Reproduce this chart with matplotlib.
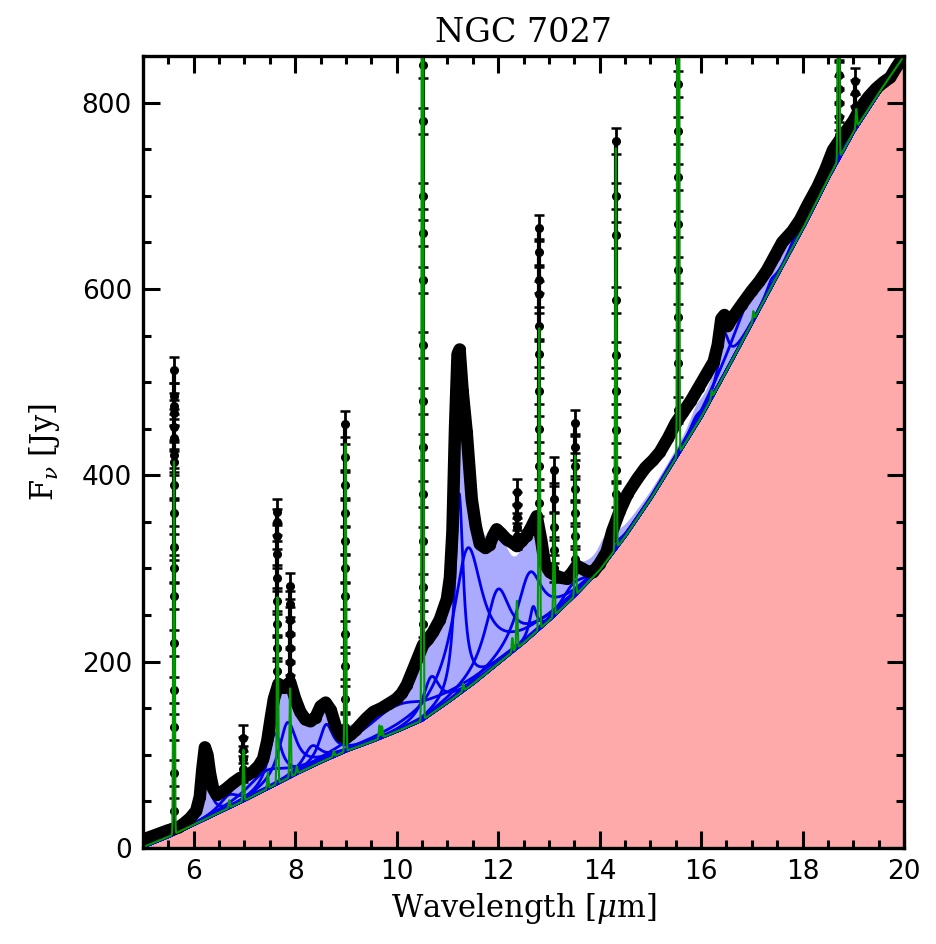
import numpy as np
import matplotlib.pyplot as plt

plt.rcParams["mathtext.fontset"] = "dejavuserif"

# continuum (red area)
cont_wave = [5.0, 5.5, 6.0, 6.5, 7.0, 7.5, 8.0, 8.5, 9.0, 9.5, 10.0, 10.5, 11.0, 11.5,
             12.0, 12.5, 13.0, 13.5, 14.0, 14.5, 15.0, 15.5, 16.0, 16.5, 17.0, 17.5,
             18.0, 18.5, 19.0, 19.5, 20.0]
cont_flux = [1, 12, 25, 38, 51, 65, 79, 92, 104, 114, 125, 137, 156, 176,
             198, 220, 244, 270, 298, 334, 374, 418, 462, 512, 563, 614,
             664, 718, 768, 810, 850]

# dust features (Drude): centre, fwhm, peak above continuum
feat_wave = [5.70, 6.22, 6.69, 7.42, 7.60, 7.85, 8.33, 8.61, 10.00, 10.68, 11.23, 11.40,
             11.99, 12.62, 12.69, 13.48, 14.04, 14.19, 15.90, 16.45, 17.04, 17.38, 17.87]
feat_fwhm = [0.20, 0.19, 0.47, 0.94, 0.33, 0.42, 0.42, 0.34, 1.60, 0.40, 0.20, 0.70,
             0.60, 0.60, 0.17, 0.54, 0.23, 0.36, 0.32, 0.23, 1.11, 0.21, 0.29]
feat_peak = [5, 72, 14, 20, 55, 60, 22, 38, 28, 40, 215, 150,
             80, 70, 30, 15, 8, 12, 10, 45, 35, 8, 8]

# emission lines (green): centre, peak above continuum
line_wave = [5.61, 6.70, 6.98, 7.46, 7.65, 7.90, 8.03, 8.76, 8.99, 9.66, 9.71, 10.51,
             11.31, 12.28, 12.37, 12.81, 13.10, 13.52, 14.32, 15.55, 16.21, 17.03,
             18.71, 19.06]
line_peak = [400, 8, 55, 17, 200, 95, 8, 6, 330, 14, 12, 2000,
             8, 15, 51, 323, 110, 150, 430, 2000, 8, 10,
             600, 20]

# observed spectrum (black band)
obs_wave = [5.00, 5.10, 5.20, 5.30, 5.40, 5.50, 5.70, 5.80, 5.93, 6.05, 6.12, 6.17,
            6.22, 6.27, 6.32, 6.38, 6.45, 6.55, 6.65, 6.78, 6.91, 7.05, 7.17, 7.28,
            7.37, 7.45, 7.52, 7.58, 7.67, 7.78, 7.90, 8.00, 8.10, 8.20, 8.30, 8.40,
            8.50, 8.60, 8.70, 8.80, 8.90, 9.00, 9.10, 9.20, 9.30, 9.40, 9.54, 9.70,
            9.85, 10.00, 10.10, 10.20, 10.35, 10.52, 10.62, 10.72, 10.85, 10.99, 11.05,
            11.10, 11.15, 11.20, 11.24, 11.30, 11.38, 11.48, 11.56, 11.64, 11.75, 11.83,
            11.90, 11.97, 12.05, 12.17, 12.27, 12.37, 12.47, 12.56, 12.66, 12.76, 12.85,
            12.92, 13.02, 13.15, 13.25, 13.35, 13.45, 13.55, 13.65, 13.75, 13.87, 14.00,
            14.14, 14.25, 14.40, 14.55, 14.74, 14.90, 15.05, 15.19, 15.35, 15.50, 15.65,
            15.80, 15.95, 16.10, 16.25, 16.33, 16.40, 16.46, 16.52, 16.63, 16.80, 17.00,
            17.15, 17.30, 17.45, 17.60, 17.80, 17.95, 18.10, 18.30, 18.45, 18.60, 18.80,
            19.00, 19.15, 19.30, 19.45, 19.60, 19.73, 19.85, 20.00]
obs_flux = [8, 11, 13, 15, 17, 19, 22, 26, 32, 40, 55, 85,
            108, 100, 80, 64, 57, 60, 64, 70, 75, 78, 82, 88,
            96, 115, 140, 160, 176, 172, 178, 160, 146, 138, 136, 140,
            152, 156, 148, 130, 120, 118, 122, 127, 133, 139, 146, 150,
            155, 160, 166, 175, 195, 218, 224, 232, 245, 267, 290,
            340, 450, 530, 535, 490, 446, 374, 345, 326, 322, 325,
            335, 342, 338, 331, 328, 324, 330, 335, 345, 356, 330,
            305, 296, 292, 290, 289, 295, 303, 300, 297, 296, 305,
            318, 340, 362, 380, 396, 408, 416, 425, 440, 456, 468,
            480, 494, 508, 522, 540, 568, 572, 560, 570, 583, 598,
            608, 620, 635, 650, 662, 674, 690, 710, 728, 749, 765,
            780, 795, 806, 815, 822, 827, 838, 850]

# points climbing up the narrow lines
spike_wave = [5.61, 6.98, 7.65, 7.90, 8.99, 10.51, 12.37, 12.81, 13.10, 13.52,
              14.32, 15.55, 18.71, 19.03]
spike_dots = [
    [40, 80, 130, 170, 220, 270, 300, 323, 360, 390, 414, 422, 440, 452, 467, 474, 485, 513],
    [85, 95, 105, 118],
    [190, 215, 240, 265, 290, 315, 335, 350, 361],
    [185, 200, 215, 230, 245, 262, 281],
    [130, 160, 195, 230, 270, 300, 330, 360, 390, 420, 455],
    [240, 280, 330, 380, 430, 480, 540, 610, 660, 700, 780, 840, 900],
    [335, 345, 355, 368, 382],
    [370, 410, 450, 490, 530, 560, 595, 610, 640, 665],
    [300, 320, 345, 375, 406],
    [310, 335, 360, 385, 410, 430, 456],
    [380, 406, 449, 490, 529, 588, 658, 700, 759],
    [470, 520, 570, 620, 670, 720, 770, 820, 880],
    [765, 785, 800, 815, 830, 860],
    [795, 810, 823],
]


def drude(x, x0, fwhm, peak):
    g = fwhm / x0
    return peak * g**2 / ((x / x0 - x0 / x) ** 2 + g**2)


def gauss(x, x0, peak, sigma=0.012):
    return peak * np.exp(-0.5 * ((x - x0) / sigma) ** 2)


wave = np.linspace(5.0, 20.0, 7501)
cont = np.interp(wave, cont_wave, cont_flux)
feats = [drude(wave, c, w, p) for c, w, p in zip(feat_wave, feat_fwhm, feat_peak)]
lines = sum(gauss(wave, c, p) for c, p in zip(line_wave, line_peak))

fig = plt.figure(figsize=(9.36, 9.44), dpi=100)
ax = fig.add_axes([0.1528, 0.1017, 0.8130, 0.8390])

ax.fill_between(wave, 0, cont, color="#ffaaaa", lw=0, zorder=1)
ax.fill_between(wave, cont, cont + sum(feats), color="#aaaaff", lw=0, zorder=2)
for f in feats:
    ax.plot(wave, cont + f, color="#0000ee", lw=2, zorder=3)

# observed data
ax.plot(obs_wave, obs_flux, color="k", lw=9, solid_capstyle="round",
        solid_joinstyle="round", zorder=4)
ax.plot(obs_wave, obs_flux, "o", color="k", ms=7, zorder=4)
for w, dots in zip(spike_wave, spike_dots):
    base = np.interp(w, obs_wave, obs_flux)
    ax.plot([w, w], [base, dots[-1]], color="k", lw=3, zorder=4)
    ax.errorbar([w] * len(dots), dots, yerr=14, fmt="o", color="k", ms=5.5,
                elinewidth=2, capsize=3.5, capthick=1.8, zorder=4)

ax.plot(wave, cont + lines, color="#009900", lw=1.5, zorder=5)

ax.set_xlim(5, 20)
ax.set_ylim(0, 850)
ax.set_xticks(np.arange(6, 21, 2))
ax.set_xticks(np.arange(5, 20.01, 0.5), minor=True)
ax.set_yticks(np.arange(0, 801, 200))
ax.set_yticks(np.arange(0, 850, 50), minor=True)
ax.tick_params(which="both", direction="in", top=True, right=True, width=2.2,
               labelsize=19, pad=8)
ax.tick_params(which="major", length=12)
ax.tick_params(which="minor", length=6)
for s in ax.spines.values():
    s.set_linewidth(2.4)
    s.set_zorder(10)

ax.set_title("NGC 7027", fontsize=24, family="DejaVu Serif", pad=10)
ax.set_xlabel(r"Wavelength [$\mu$m]", fontsize=22, family="DejaVu Serif", labelpad=4)
ax.set_ylabel(r"F$_\nu$ [Jy]", fontsize=22, family="DejaVu Serif", labelpad=14)

fig.savefig("out.png", dpi=100)
